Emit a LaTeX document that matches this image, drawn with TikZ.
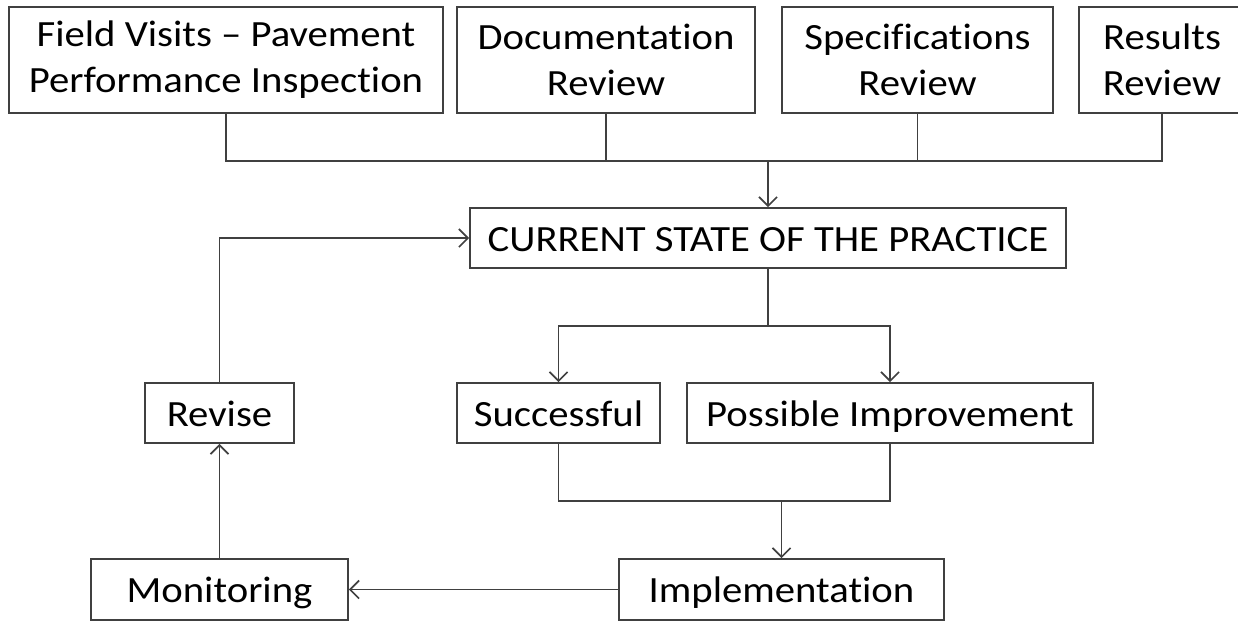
\documentclass[tikz,border=0pt]{standalone}
\usepackage{fontspec}
\setmainfont{Carlito}[FakeStretch=1.1,Ligatures={NoCommon}]
\usepackage{tikz}
\usetikzlibrary{arrows.meta}

\begin{document}
\begin{tikzpicture}[x=1pt,y=-1pt,>={Straight Barb[length=9pt,width=18pt]},
  box/.style={draw=black!75,line width=1.7pt,rectangle,inner sep=0pt,align=center,
    font=\fontsize{37}{46}\selectfont},
  one/.style={text height=26pt,text depth=0pt},
  link/.style={draw=black!75,line width=1.7pt}]
  \useasboundingbox (0,0) rectangle (1238,622);
  \clip (0,0) rectangle (1238,622);
  % top row
  \node[box,minimum width=434pt,minimum height=106pt] (fv) at (226,60) {Field Visits -- Pavement\\Performance Inspection};
  \node[box,minimum width=298pt,minimum height=106pt] (doc) at (606,60) {Documentation\\Review};
  \node[box,minimum width=271pt,minimum height=106pt] (spec) at (917.5,60) {Specifications\\Review};
  \node[box,minimum width=166pt,minimum height=106pt] (res) at (1162,60) {Results\\Review};
  \node[box,one,minimum width=596pt,minimum height=60pt] (cur) at (768,238) {CURRENT STATE OF THE PRACTICE};
  \node[box,one,minimum width=203pt,minimum height=60pt] (succ) at (558.5,413) {Successful};
  \node[box,one,minimum width=406pt,minimum height=60pt] (impr) at (890,413) {Possible Improvement};
  \node[box,one,minimum width=149pt,minimum height=60pt] (rev) at (219.5,413) {Revise};
  \node[box,one,minimum width=325pt,minimum height=61pt] (impl) at (781.5,589.5) {Implementation};
  \node[box,one,minimum width=257pt,minimum height=61pt] (mon) at (219.5,589.5) {Monitoring};
  \coordinate (bus) at (768,161);
  \coordinate (split) at (768,326);
  \coordinate (merge) at (781.5,501);
  % connectors
  \draw[link] (fv.south) |- (bus) -| (res.south);
  \draw[link] (doc.south) -- (doc.south |- bus);
  \draw[link] (spec.south) -- (spec.south |- bus);
  \draw[link,->] (bus) -- (cur);
  \draw[link] (cur.south) -- (split);
  \draw[link,->] (split) -| (succ);
  \draw[link,->] (split) -| (impr);
  \draw[link] (succ.south) |- (merge) -| (impr.south);
  \draw[link,->] (merge) -- (impl);
  \draw[link,->] (impl) -- (mon);
  \draw[link,->] (mon) -- (rev);
  \draw[link,->] (rev.north) |- (cur.west);
\end{tikzpicture}
\end{document}
